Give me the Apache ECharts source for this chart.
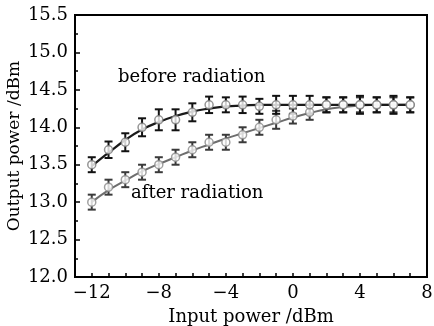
<!DOCTYPE html>
<html>
<head>
<meta charset="utf-8">
<script src="https://cdn.jsdelivr.net/npm/echarts@6/dist/echarts.min.js"></script>
<style>html,body{margin:0;padding:0;background:#fff;}#c{width:434px;height:326px;}</style>
</head>
<body>
<div id="c"></div>
<script>
const inputPower = [-12,-11,-10,-9,-8,-7,-6,-5,-4,-3,-2,-1,0,1,2,3,4,5,6,7];
const beforeVals = [13.5,13.7,13.8,14.0,14.1,14.1,14.2,14.3,14.3,14.3,14.28,14.3,14.3,14.3,14.3,14.3,14.3,14.3,14.3,14.3];
const beforeErr  = [0.1,0.11,0.12,0.12,0.14,0.14,0.12,0.11,0.1,0.11,0.1,0.12,0.12,0.12,0.1,0.1,0.12,0.1,0.12,0.1];
const afterVals  = [13.0,13.2,13.3,13.4,13.5,13.6,13.7,13.8,13.8,13.9,14.0,14.1,14.15,14.2,14.3,14.3,14.3,14.3,14.3,14.3];
const afterErr   = [0.1,0.1,0.1,0.1,0.1,0.1,0.1,0.1,0.1,0.1,0.1,0.12,0.1,0.1,0.1,0.1,0.1,0.1,0.1,0.1];
const beforeFit  = [13.48,13.66,13.83,13.97,14.07,14.15,14.21,14.25,14.28,14.29,14.3,14.3,14.3,14.3,14.3,14.3,14.3,14.3,14.3,14.3];
const afterFit   = [13.0,13.16,13.29,13.41,13.51,13.6,13.69,13.77,13.85,13.92,13.99,14.06,14.13,14.19,14.24,14.27,14.29,14.3,14.3,14.3];
const xLabels = {'-12':'\u221212','-8':'\u22128','-4':'\u22124','0':'0','4':'4','8':'8'};

const FONT = 'DejaVu Serif';
const chart = echarts.init(document.getElementById('c'));

function pairs(xs, ys){ return xs.map((x,i)=>[x, ys[i]]); }
function errData(xs, ys, es){ return xs.map((x,i)=>[x, ys[i]-es[i], ys[i]+es[i]]); }
function errRender(color){
  return function(params, api){
    const x = api.value(0);
    const lo = api.coord([x, api.value(1)]);
    const hi = api.coord([x, api.value(2)]);
    const w = 4;
    const st = {stroke: color, lineWidth: 2};
    return {type:'group', children:[
      {type:'line', shape:{x1:lo[0], y1:lo[1], x2:hi[0], y2:hi[1]}, style:st},
      {type:'line', shape:{x1:lo[0]-w, y1:lo[1], x2:lo[0]+w, y2:lo[1]}, style:st},
      {type:'line', shape:{x1:hi[0]-w, y1:hi[1], x2:hi[0]+w, y2:hi[1]}, style:st}
    ]};
  };
}

chart.setOption({
  animation: false,
  backgroundColor: '#fff',
  grid: {left: 75, right: 7, top: 15, bottom: 49, containLabel: false, outerBoundsMode: 'none',
         show: true, borderColor: '#000', borderWidth: 2, backgroundColor: 'transparent'},
  xAxis: {
    type: 'value', min: -13, max: 8, interval: 1,
    name: 'Input power /dBm', nameLocation: 'middle', nameGap: 31, nameMoveOverlap: false,
    nameTextStyle: {fontFamily: FONT, fontSize: 18, color: '#000'},
    axisLine: {show: true, onZero: false, lineStyle: {color: '#000', width: 2}},
    axisTick: {show: true, inside: true, length: 4, lineStyle: {color: '#000', width: 1.5}},
    axisLabel: {fontFamily: FONT, fontSize: 18, color: '#000', margin: 7,
      formatter: v => (xLabels[String(v)] !== undefined ? xLabels[String(v)] : '')},
    splitLine: {show: false}
  },
  yAxis: {
    type: 'value', min: 12, max: 15.5, interval: 0.5,
    name: 'Output power /dBm', nameLocation: 'middle', nameGap: 52, nameRotate: 90, nameMoveOverlap: false,
    nameTextStyle: {fontFamily: FONT, fontSize: 17, color: '#000'},
    axisLine: {show: true, onZero: false, lineStyle: {color: '#000', width: 2}},
    axisTick: {show: true, inside: true, length: 5, lineStyle: {color: '#000', width: 1.5}},
    minorTick: {show: true, splitNumber: 2, length: 3, lineStyle: {color: '#000', width: 1.5}},
    axisLabel: {fontFamily: FONT, fontSize: 18, color: '#000', margin: 7, formatter: v => v.toFixed(1)},
    splitLine: {show: false}
  },
  graphic: [
    {type: 'text', left: 118, top: 68, style: {text: 'before radiation', font: '18px "DejaVu Serif"', fill: '#000'}},
    {type: 'text', left: 131, top: 184, style: {text: 'after radiation', font: '18px "DejaVu Serif"', fill: '#000'}}
  ],
  series: [
    {type: 'line', data: pairs(inputPower, afterFit), smooth: true, showSymbol: false, lineStyle: {color: '#6e6e6e', width: 2}, z: 2},
    {type: 'line', data: pairs(inputPower, beforeFit), smooth: true, showSymbol: false, lineStyle: {color: '#1a1a1a', width: 2.2}, z: 2},
    {type: 'custom', data: errData(inputPower, afterVals, afterErr), renderItem: errRender('#3a3a3a'), encode: {x: 0, y: [1,2]}, z: 3},
    {type: 'custom', data: errData(inputPower, beforeVals, beforeErr), renderItem: errRender('#111'), encode: {x: 0, y: [1,2]}, z: 3},
    {type: 'scatter', data: pairs(inputPower, afterVals), symbol: 'circle', symbolSize: 8, itemStyle: {color: '#fff', borderColor: '#8a8a8a', borderWidth: 1.5}, z: 4},
    {type: 'scatter', data: pairs(inputPower, beforeVals), symbol: 'circle', symbolSize: 8, itemStyle: {color: '#fff', borderColor: '#7a7a7a', borderWidth: 1.5}, z: 4}
  ]
});
</script>
</body>
</html>
